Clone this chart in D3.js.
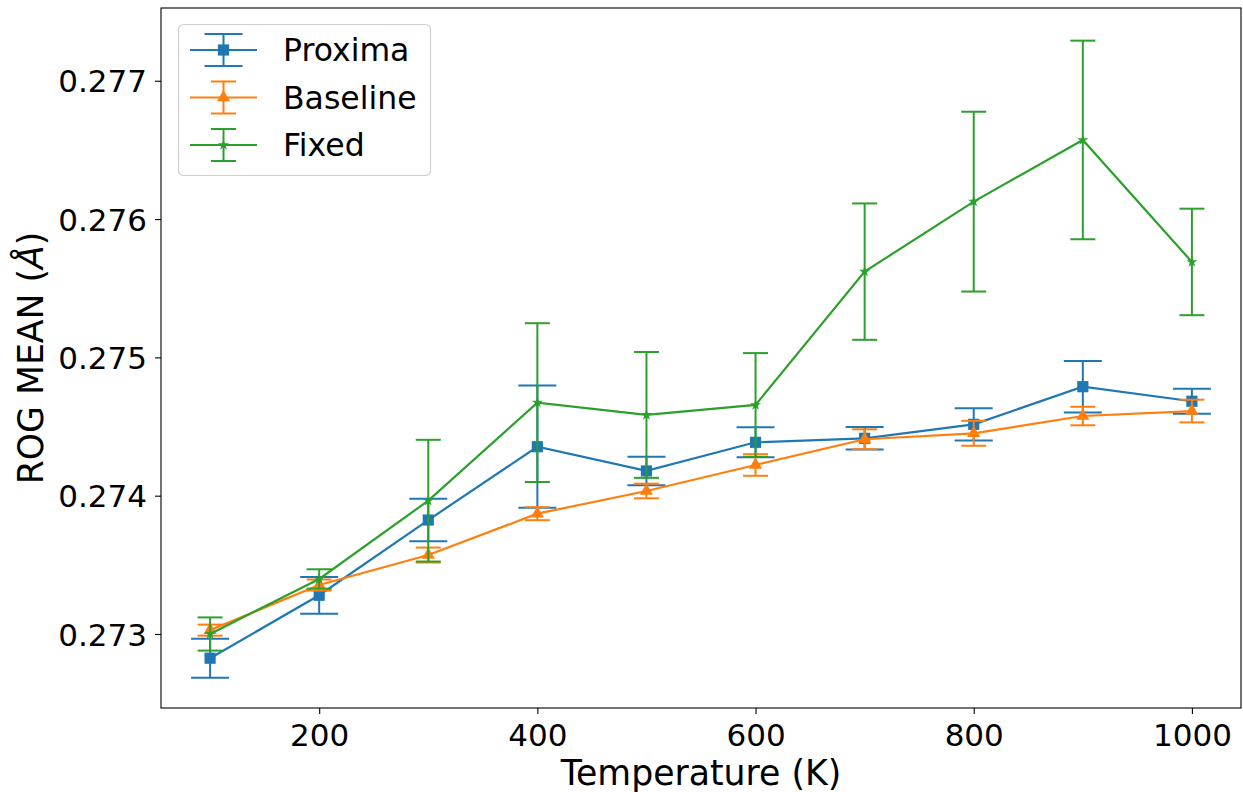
<!DOCTYPE html>
<html>
<head>
<meta charset="utf-8">
<script src="https://cdn.jsdelivr.net/npm/d3@7"></script>
<style>
  body { margin: 0; background: #fff; }
  svg { font-family: "DejaVu Sans", sans-serif; }
</style>
</head>
<body>
<script>
// temperatures (K)
var temps = [100, 200, 300, 400, 500, 600, 700, 800, 900, 1000];

// ROG mean values and error half-widths
var proximaMean = [0.272825, 0.273280, 0.273824, 0.274354, 0.274179, 0.274386, 0.274415, 0.274516, 0.274788, 0.274683];
var proximaErr  = [0.000141, 0.000133, 0.000153, 0.000442, 0.000103, 0.000108, 0.000081, 0.000117, 0.000186, 0.000090];

var baselineMean = [0.273028, 0.273354, 0.273571, 0.273870, 0.274034, 0.274222, 0.274408, 0.274451, 0.274576, 0.274612];
var baselineErr  = [0.000040, 0.000040, 0.000054, 0.000047, 0.000053, 0.000078, 0.000072, 0.000090, 0.000067, 0.000082];

var fixedMean = [0.273000, 0.273398, 0.273964, 0.274673, 0.274584, 0.274656, 0.275620, 0.276126, 0.276572, 0.275690];
var fixedErr  = [0.000120, 0.000070, 0.000440, 0.000574, 0.000455, 0.000375, 0.000493, 0.000650, 0.000718, 0.000385];

var xTicks = [200, 400, 600, 800, 1000];
var yTicks = [0.273, 0.274, 0.275, 0.276, 0.277];

var width = 1243;
var height = 792;
var plotLeft = 161, plotRight = 1241, plotTop = 8, plotBottom = 708;

var series = [
  { name: 'Proxima', mean: proximaMean, err: proximaErr, color: '#1f77b4', symbol: d3.symbolSquare, size: 125, cap: 19 },
  { name: 'Baseline', mean: baselineMean, err: baselineErr, color: '#ff7f0e', symbol: d3.symbolTriangle, size: 75, cap: 12.5 },
  { name: 'Fixed', mean: fixedMean, err: fixedErr, color: '#2ca02c', symbol: d3.symbolStar, size: 38, cap: 12.5 }
];

var svg = d3.select('body')
  .append('svg')
  .attr('width', width)
  .attr('height', height);

var x = d3.scaleLinear().domain([55, 1045]).range([plotLeft, plotRight]);
var y = d3.scaleLinear().domain([0.272465, 0.277526]).range([plotBottom, plotTop]);

// axes
var xAxis = svg.append('g')
  .attr('transform', 'translate(0,' + plotBottom + ')')
  .call(d3.axisBottom(x).tickValues(xTicks).tickSize(6).tickPadding(8).tickFormat(d3.format('d')));

var yAxis = svg.append('g')
  .attr('transform', 'translate(' + plotLeft + ',0)')
  .call(d3.axisLeft(y).tickValues(yTicks).tickSize(6).tickPadding(8).tickFormat(d3.format('.3f')));

[xAxis, yAxis].forEach(function (g) {
  g.attr('font-family', null).attr('font-size', null);
  g.select('.domain').remove();
  g.selectAll('.tick line').attr('stroke', '#000').attr('stroke-width', 1.1);
  g.selectAll('.tick text').attr('fill', '#000').style('font-size', '31px');
});
xAxis.selectAll('.tick text').attr('dy', '0.78em');
yAxis.selectAll('.tick text').attr('dy', '0.36em');

// plot frame
svg.append('rect')
  .attr('x', plotLeft)
  .attr('y', plotTop)
  .attr('width', plotRight - plotLeft)
  .attr('height', plotBottom - plotTop)
  .attr('fill', 'none')
  .attr('stroke', '#000')
  .attr('stroke-width', 1.1);

// axis labels
svg.append('text')
  .attr('x', (plotLeft + plotRight) / 2)
  .attr('y', 785)
  .attr('text-anchor', 'middle')
  .style('font-size', '34.7px')
  .text('Temperature (K)');

var yLabel = svg.append('text')
  .attr('transform', 'translate(43,' + (plotTop + plotBottom) / 2 + ') rotate(-90)')
  .attr('text-anchor', 'middle')
  .style('font-size', '34.7px');
yLabel.append('tspan').text('ROG MEAN (');
yLabel.append('tspan').style('font-style', 'italic').text('Å');
yLabel.append('tspan').text(')');

var line = d3.line()
  .x(function (d) { return x(d.t); })
  .y(function (d) { return y(d.v); });

series.forEach(function (s) {
  var pts = temps.map(function (t, i) {
    return { t: t, v: s.mean[i], e: s.err[i] };
  });
  var g = svg.append('g');

  var bars = g.selectAll('.bar')
    .data(pts)
    .enter()
    .append('g');

  bars.append('line')
    .attr('x1', function (d) { return x(d.t); })
    .attr('x2', function (d) { return x(d.t); })
    .attr('y1', function (d) { return y(d.v - d.e); })
    .attr('y2', function (d) { return y(d.v + d.e); })
    .attr('stroke', s.color)
    .attr('stroke-width', 2);

  [-1, 1].forEach(function (sign) {
    bars.append('line')
      .attr('x1', function (d) { return x(d.t) - s.cap; })
      .attr('x2', function (d) { return x(d.t) + s.cap; })
      .attr('y1', function (d) { return y(d.v + sign * d.e); })
      .attr('y2', function (d) { return y(d.v + sign * d.e); })
      .attr('stroke', s.color)
      .attr('stroke-width', 2);
  });

  g.append('path')
    .datum(pts)
    .attr('d', line)
    .attr('fill', 'none')
    .attr('stroke', s.color)
    .attr('stroke-width', 2.2);

  g.selectAll('.marker')
    .data(pts)
    .enter()
    .append('path')
    .attr('d', d3.symbol().type(s.symbol).size(s.size))
    .attr('transform', function (d) {
      return 'translate(' + x(d.t) + ',' + y(d.v) + ')';
    })
    .attr('fill', s.color);
});

// legend
var legend = svg.append('g');
legend.append('rect')
  .attr('x', 178.5)
  .attr('y', 24.5)
  .attr('width', 252)
  .attr('height', 151)
  .attr('rx', 5)
  .attr('fill', '#fff')
  .attr('fill-opacity', 0.8)
  .attr('stroke', '#d0d0d0')
  .attr('stroke-width', 1.2);

series.forEach(function (s, i) {
  var cy = 50 + i * 47.5;
  var cx = 223.5;
  var item = legend.append('g');
  item.append('line')
    .attr('x1', 190).attr('x2', 257)
    .attr('y1', cy).attr('y2', cy)
    .attr('stroke', s.color).attr('stroke-width', 2.2);
  item.append('line')
    .attr('x1', cx).attr('x2', cx)
    .attr('y1', cy - 16).attr('y2', cy + 16)
    .attr('stroke', s.color).attr('stroke-width', 2);
  [-16, 16].forEach(function (off) {
    item.append('line')
      .attr('x1', cx - s.cap).attr('x2', cx + s.cap)
      .attr('y1', cy + off).attr('y2', cy + off)
      .attr('stroke', s.color).attr('stroke-width', 2);
  });
  item.append('path')
    .attr('d', d3.symbol().type(s.symbol).size(s.size))
    .attr('transform', 'translate(' + cx + ',' + cy + ')')
    .attr('fill', s.color);
  item.append('text')
    .attr('x', 283)
    .attr('y', cy)
    .attr('dy', '0.36em')
    .style('font-size', '31.5px')
    .text(s.name);
});
</script>
</body>
</html>
